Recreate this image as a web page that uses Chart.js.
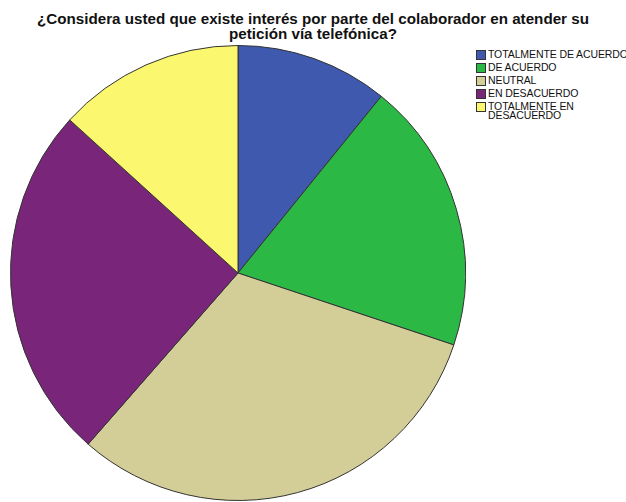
<!DOCTYPE html>
<html>
<head>
<meta charset="utf-8">
<script src="https://cdn.jsdelivr.net/npm/chart.js@4/dist/chart.umd.min.js"></script>
<style>
body { margin: 0; background: #fff; }
#wrap { position: relative; width: 626px; height: 502px; overflow: hidden; font-family: "Liberation Sans", Arial, sans-serif; }
#title { position: absolute; left: 0; top: 11px; width: 626px; text-align: center; font-weight: bold; font-size: 15.2px; line-height: 15px; color: #111; }
#pieBox { position: absolute; left: 10px; top: 45px; width: 456px; height: 456px; }
#legend { position: absolute; left: 476px; top: 50px; width: 150px; font-size: 10.5px; line-height: 9px; color: #111; letter-spacing: -0.1px; }
#legend .row { position: relative; padding-left: 12px; margin-bottom: 4px; white-space: nowrap; }
#legend .box { position: absolute; left: 0; top: 0; width: 8px; height: 8px; border: 1px solid #333; }
</style>
</head>
<body>
<div id="wrap">
	<div id="title">¿Considera usted que existe interés por parte del colaborador en atender su<br>petición vía telefónica?</div>
	<div id="pieBox"><canvas id="pie" width="456" height="456"></canvas></div>
	<div id="legend"></div>
</div>
<script>
// response categories, counted answers, slice colours
var categories = ["TOTALMENTE DE ACUERDO", "DE ACUERDO", "NEUTRAL", "EN DESACUERDO", "TOTALMENTE EN DESACUERDO"];
var legendText = ["TOTALMENTE DE ACUERDO", "DE ACUERDO", "NEUTRAL", "EN DESACUERDO", "TOTALMENTE EN<br>DESACUERDO"];
var counts = [9, 16, 26, 21, 11];
var colors = ["#3e59ae", "#2bb845", "#d3ce98", "#79267a", "#fbf86f"];

// legend
var html = "";
for (var i in categories) {
	html += '<div class="row"><span class="box" style="background:' + colors[i] + '"></span>' + legendText[i] + '</div>';
};
document.getElementById("legend").innerHTML = html;

var ctx = document.getElementById("pie");
var myPie = new Chart(ctx, {
	type: "pie",
	data: {
		labels: categories,
		datasets: [{
			data: counts,
			backgroundColor: colors,
			borderColor: "#333",
			borderWidth: 1
		}]
	},
	options: {
		responsive: false,
		animation: false,
		rotation: 0,
		layout: { padding: 0 },
		plugins: {
			legend: { display: false },
			title: { display: false },
			tooltip: { enabled: false }
		}
	}
});
</script>
</body>
</html>
